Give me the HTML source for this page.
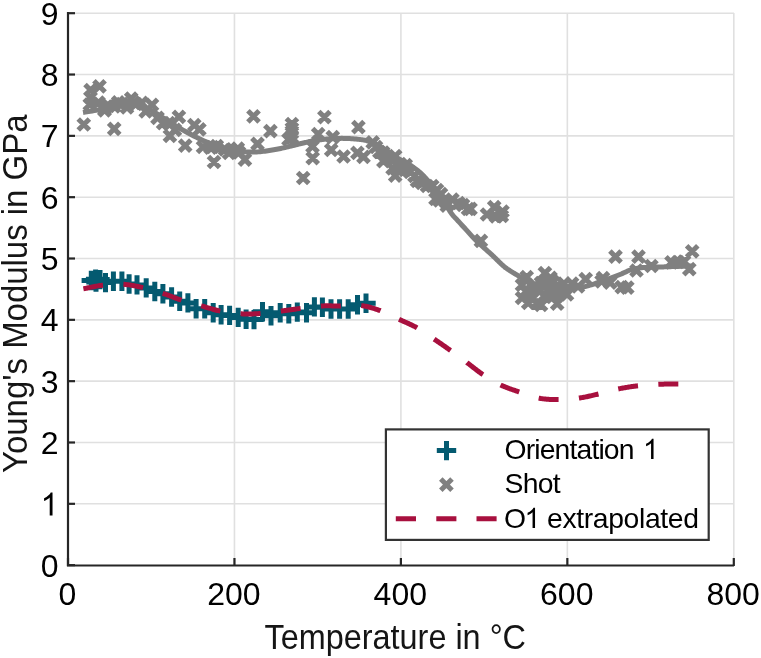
<!DOCTYPE html>
<html><head><meta charset="utf-8"><style>html,body{margin:0;padding:0;background:#fff;}svg{display:block;will-change:transform;}text{font-family:"Liberation Sans",sans-serif;}</style></head>
<body><svg width="761" height="658" viewBox="0 0 761 658">
<rect width="761" height="658" fill="#fff"/>
<line x1="234.45" y1="13" x2="234.45" y2="565" stroke="#e0e0e0" stroke-width="1.6"/>
<line x1="400.90" y1="13" x2="400.90" y2="565" stroke="#e0e0e0" stroke-width="1.6"/>
<line x1="567.35" y1="13" x2="567.35" y2="565" stroke="#e0e0e0" stroke-width="1.6"/>
<line x1="733.80" y1="13" x2="733.80" y2="565" stroke="#e0e0e0" stroke-width="1.6"/>
<line x1="68" y1="503.82" x2="734" y2="503.82" stroke="#e0e0e0" stroke-width="1.6"/>
<line x1="68" y1="442.49" x2="734" y2="442.49" stroke="#e0e0e0" stroke-width="1.6"/>
<line x1="68" y1="381.17" x2="734" y2="381.17" stroke="#e0e0e0" stroke-width="1.6"/>
<line x1="68" y1="319.84" x2="734" y2="319.84" stroke="#e0e0e0" stroke-width="1.6"/>
<line x1="68" y1="258.51" x2="734" y2="258.51" stroke="#e0e0e0" stroke-width="1.6"/>
<line x1="68" y1="197.18" x2="734" y2="197.18" stroke="#e0e0e0" stroke-width="1.6"/>
<line x1="68" y1="135.85" x2="734" y2="135.85" stroke="#e0e0e0" stroke-width="1.6"/>
<line x1="68" y1="74.53" x2="734" y2="74.53" stroke="#e0e0e0" stroke-width="1.6"/>
<line x1="68" y1="13.20" x2="734" y2="13.20" stroke="#e0e0e0" stroke-width="1.6"/>
<path d="M68,12 V565.5 H734" fill="none" stroke="#262626" stroke-width="2.2"/>
<line x1="67" y1="565.15" x2="75" y2="565.15" stroke="#262626" stroke-width="2.2"/>
<line x1="67" y1="503.82" x2="75" y2="503.82" stroke="#262626" stroke-width="2.2"/>
<line x1="67" y1="442.49" x2="75" y2="442.49" stroke="#262626" stroke-width="2.2"/>
<line x1="67" y1="381.17" x2="75" y2="381.17" stroke="#262626" stroke-width="2.2"/>
<line x1="67" y1="319.84" x2="75" y2="319.84" stroke="#262626" stroke-width="2.2"/>
<line x1="67" y1="258.51" x2="75" y2="258.51" stroke="#262626" stroke-width="2.2"/>
<line x1="67" y1="197.18" x2="75" y2="197.18" stroke="#262626" stroke-width="2.2"/>
<line x1="67" y1="135.85" x2="75" y2="135.85" stroke="#262626" stroke-width="2.2"/>
<line x1="67" y1="74.53" x2="75" y2="74.53" stroke="#262626" stroke-width="2.2"/>
<line x1="67" y1="13.20" x2="75" y2="13.20" stroke="#262626" stroke-width="2.2"/>
<line x1="68.00" y1="566" x2="68.00" y2="558" stroke="#262626" stroke-width="2.2"/>
<line x1="234.45" y1="566" x2="234.45" y2="558" stroke="#262626" stroke-width="2.2"/>
<line x1="400.90" y1="566" x2="400.90" y2="558" stroke="#262626" stroke-width="2.2"/>
<line x1="567.35" y1="566" x2="567.35" y2="558" stroke="#262626" stroke-width="2.2"/>
<line x1="733.80" y1="566" x2="733.80" y2="558" stroke="#262626" stroke-width="2.2"/>
<path d="M78.20,118.90L89.40,130.10M78.20,130.10L89.40,118.90M108.60,123.20L119.80,134.40M108.60,134.40L119.80,123.20M93.90,80.70L105.10,91.90M93.90,91.90L105.10,80.70M85.00,84.60L96.20,95.80M85.00,95.80L96.20,84.60M84.80,92.00L96.00,103.20M84.80,103.20L96.00,92.00M84.20,98.90L95.40,110.10M84.20,110.10L95.40,98.90M98.80,103.70L110.00,114.90M98.80,114.90L110.00,103.70M99.00,104.80L110.20,116.00M99.00,116.00L110.20,104.80M102.90,100.20L114.10,111.40M102.90,111.40L114.10,100.20M92.90,96.90L104.10,108.10M92.90,108.10L104.10,96.90M112.60,96.80L123.80,108.00M112.60,108.00L123.80,96.80M125.60,92.90L136.80,104.10M125.60,104.10L136.80,92.90M136.10,97.20L147.30,108.40M136.10,108.40L147.30,97.20M146.40,99.20L157.60,110.40M146.40,110.40L157.60,99.20M121.40,101.90L132.60,113.10M121.40,113.10L132.60,101.90M140.10,105.70L151.30,116.90M140.10,116.90L151.30,105.70M151.90,112.20L163.10,123.40M151.90,123.40L163.10,112.20M157.50,117.50L168.70,128.70M157.50,128.70L168.70,117.50M116.40,98.40L127.60,109.60M116.40,109.60L127.60,98.40M130.40,98.40L141.60,109.60M130.40,109.60L141.60,98.40M108.40,100.90L119.60,112.10M108.40,112.10L119.60,100.90M163.10,117.50L174.30,128.70M163.10,128.70L174.30,117.50M164.30,130.20L175.50,141.40M164.30,141.40L175.50,130.20M173.30,111.20L184.50,122.40M173.30,122.40L184.50,111.20M179.60,140.00L190.80,151.20M179.60,151.20L190.80,140.00M188.70,119.50L199.90,130.70M188.70,130.70L199.90,119.50M193.80,123.80L205.00,135.00M193.80,135.00L205.00,123.80M169.30,124.20L180.50,135.40M169.30,135.40L180.50,124.20M197.40,141.40L208.60,152.60M197.40,152.60L208.60,141.40M204.90,142.00L216.10,153.20M204.90,153.20L216.10,142.00M206.90,141.40L218.10,152.60M206.90,152.60L218.10,141.40M208.40,156.40L219.60,167.60M208.40,167.60L219.60,156.40M211.20,140.40L222.40,151.60M211.20,151.60L222.40,140.40M219.40,143.80L230.60,155.00M219.40,155.00L230.60,143.80M225.40,144.40L236.60,155.60M225.40,155.60L236.60,144.40M232.20,143.00L243.40,154.20M232.20,154.20L243.40,143.00M223.40,147.40L234.60,158.60M223.40,158.60L234.60,147.40M233.40,146.90L244.60,158.10M233.40,158.10L244.60,146.90M239.30,154.00L250.50,165.20M239.30,165.20L250.50,154.00M247.90,110.70L259.10,121.90M247.90,121.90L259.10,110.70M251.90,138.30L263.10,149.50M251.90,149.50L263.10,138.30M264.80,125.50L276.00,136.70M264.80,136.70L276.00,125.50M282.90,133.90L294.10,145.10M282.90,145.10L294.10,133.90M286.30,118.40L297.50,129.60M286.30,129.60L297.50,118.40M286.30,122.90L297.50,134.10M286.30,134.10L297.50,122.90M286.30,127.40L297.50,138.60M286.30,138.60L297.50,127.40M286.30,131.90L297.50,143.10M286.30,143.10L297.50,131.90M297.60,172.40L308.80,183.60M297.60,183.60L308.80,172.40M306.90,140.90L318.10,152.10M306.90,152.10L318.10,140.90M307.10,152.50L318.30,163.70M307.10,163.70L318.30,152.50M312.60,128.60L323.80,139.80M312.60,139.80L323.80,128.60M318.80,111.50L330.00,122.70M318.80,122.70L330.00,111.50M327.20,131.60L338.40,142.80M327.20,142.80L338.40,131.60M325.60,144.40L336.80,155.60M325.60,155.60L336.80,144.40M338.00,150.90L349.20,162.10M338.00,162.10L349.20,150.90M352.80,121.50L364.00,132.70M352.80,132.70L364.00,121.50M351.80,147.30L363.00,158.50M351.80,158.50L363.00,147.30M357.90,151.30L369.10,162.50M357.90,162.50L369.10,151.30M367.10,136.70L378.30,147.90M367.10,147.90L378.30,136.70M373.80,146.40L385.00,157.60M373.80,157.60L385.00,146.40M377.80,155.60L389.00,166.80M377.80,166.80L389.00,155.60M377.60,147.00L388.80,158.20M377.60,158.20L388.80,147.00M389.60,150.40L400.80,161.60M389.60,161.60L400.80,150.40M387.00,162.80L398.20,174.00M387.00,174.00L398.20,162.80M390.90,159.60L402.10,170.80M390.90,170.80L402.10,159.60M400.10,159.60L411.30,170.80M400.10,170.80L411.30,159.60M389.60,170.10L400.80,181.30M389.60,181.30L400.80,170.10M394.40,158.40L405.60,169.60M394.40,169.60L405.60,158.40M399.40,164.40L410.60,175.60M399.40,175.60L410.60,164.40M404.40,166.40L415.60,177.60M404.40,177.60L415.60,166.40M408.80,170.40L420.00,181.60M408.80,181.60L420.00,170.40M411.40,175.40L422.60,186.60M411.40,186.60L422.60,175.40M416.40,177.40L427.60,188.60M416.40,188.60L427.60,177.40M421.40,180.40L432.60,191.60M421.40,191.60L432.60,180.40M426.70,180.40L437.90,191.60M426.70,191.60L437.90,180.40M431.40,184.40L442.60,195.60M431.40,195.60L442.60,184.40M435.40,188.40L446.60,199.60M435.40,199.60L446.60,188.40M429.90,193.40L441.10,204.60M429.90,204.60L441.10,193.40M433.90,194.90L445.10,206.10M433.90,206.10L445.10,194.90M440.40,196.40L451.60,207.60M440.40,207.60L451.60,196.40M446.80,193.90L458.00,205.10M446.80,205.10L458.00,193.90M452.90,197.40L464.10,208.60M452.90,208.60L464.10,197.40M457.40,199.40L468.60,210.60M457.40,210.60L468.60,199.40M462.40,203.40L473.60,214.60M462.40,214.60L473.60,203.40M441.20,200.10L452.40,211.30M441.20,211.30L452.40,200.10M464.90,203.30L476.10,214.50M464.90,214.50L476.10,203.30M488.60,201.50L499.80,212.70M488.60,212.70L499.80,201.50M481.40,208.90L492.60,220.10M481.40,220.10L492.60,208.90M496.90,205.90L508.10,217.10M496.90,217.10L508.10,205.90M496.20,210.40L507.40,221.60M496.20,221.60L507.40,210.40M490.40,210.90L501.60,222.10M490.40,222.10L501.60,210.90M475.30,235.30L486.50,246.50M475.30,246.50L486.50,235.30M521.10,271.40L532.30,282.60M521.10,282.60L532.30,271.40M539.30,267.60L550.50,278.80M539.30,278.80L550.50,267.60M544.90,272.20L556.10,283.40M544.90,283.40L556.10,272.20M558.30,278.10L569.50,289.30M558.30,289.30L569.50,278.10M551.60,298.00L562.80,309.20M551.60,309.20L562.80,298.00M561.40,288.80L572.60,300.00M561.40,300.00L572.60,288.80M522.60,297.40L533.80,308.60M522.60,308.60L533.80,297.40M531.40,297.40L542.60,308.60M531.40,308.60L542.60,297.40M520.40,285.90L531.60,297.10M520.40,297.10L531.60,285.90M524.40,290.40L535.60,301.60M524.40,301.60L535.60,290.40M534.40,284.40L545.60,295.60M534.40,295.60L545.60,284.40M542.40,284.40L553.60,295.60M542.40,295.60L553.60,284.40M539.40,291.40L550.60,302.60M539.40,302.60L550.60,291.40M529.40,279.40L540.60,290.60M529.40,290.60L540.60,279.40M549.40,282.40L560.60,293.60M549.40,293.60L560.60,282.40M566.50,278.10L577.70,289.30M566.50,289.30L577.70,278.10M572.40,280.90L583.60,292.10M572.40,292.10L583.60,280.90M580.10,273.50L591.30,284.70M580.10,284.70L591.30,273.50M596.00,275.80L607.20,287.00M596.00,287.00L607.20,275.80M597.40,272.40L608.60,283.60M597.40,283.60L608.60,272.40M604.50,277.00L615.70,288.20M604.50,288.20L615.70,277.00M616.10,281.50L627.30,292.70M616.10,292.70L627.30,281.50M516.40,279.40L527.60,290.60M516.40,290.60L527.60,279.40M526.40,285.40L537.60,296.60M526.40,296.60L537.60,285.40M516.40,292.40L527.60,303.60M516.40,303.60L527.60,292.40M527.40,292.40L538.60,303.60M527.40,303.60L538.60,292.40M535.40,277.40L546.60,288.60M535.40,288.60L546.60,277.40M545.40,290.40L556.60,301.60M545.40,301.60L556.60,290.40M535.40,299.40L546.60,310.60M535.40,310.60L546.60,299.40M554.40,288.40L565.60,299.60M554.40,299.60L565.60,288.40M547.40,276.40L558.60,287.60M547.40,287.60L558.60,276.40M609.90,251.10L621.10,262.30M609.90,262.30L621.10,251.10M621.70,282.00L632.90,293.20M621.70,293.20L632.90,282.00M632.90,251.10L644.10,262.30M632.90,262.30L644.10,251.10M630.90,264.90L642.10,276.10M630.90,276.10L642.10,264.90M645.80,260.40L657.00,271.60M645.80,271.60L657.00,260.40M665.90,256.80L677.10,268.00M665.90,268.00L677.10,256.80M672.40,256.40L683.60,267.60M672.40,267.60L683.60,256.40M678.40,255.90L689.60,267.10M678.40,267.10L689.60,255.90M683.70,263.50L694.90,274.70M683.70,274.70L694.90,263.50M686.60,245.70L697.80,256.90M686.60,256.90L697.80,245.70M370.40,141.40L381.60,152.60M370.40,152.60L381.60,141.40M381.40,152.40L392.60,163.60M381.40,163.60L392.60,152.40" stroke="#808080" stroke-width="5.0" fill="none"/>
<path d="M83.00,112.50 L84.00,112.33 L85.26,112.11 L86.76,111.85 L88.43,111.56 L90.25,111.25 L92.17,110.92 L94.14,110.57 L96.14,110.21 L98.10,109.85 L100.00,109.50 L101.90,109.12 L103.89,108.71 L105.94,108.26 L108.02,107.80 L110.12,107.34 L112.22,106.90 L114.27,106.47 L116.27,106.09 L118.19,105.76 L120.00,105.50 L121.70,105.28 L123.32,105.09 L124.87,104.92 L126.36,104.78 L127.81,104.69 L129.24,104.64 L130.66,104.64 L132.08,104.69 L133.52,104.81 L135.00,105.00 L136.50,105.26 L138.00,105.58 L139.50,105.97 L141.00,106.41 L142.50,106.91 L144.00,107.45 L145.50,108.03 L147.00,108.66 L148.50,109.31 L150.00,110.00 L151.50,110.73 L152.98,111.53 L154.47,112.37 L155.95,113.26 L157.44,114.19 L158.93,115.14 L160.43,116.10 L161.94,117.07 L163.46,118.04 L165.00,119.00 L166.53,119.95 L168.04,120.91 L169.54,121.88 L171.04,122.86 L172.56,123.84 L174.12,124.84 L175.73,125.86 L177.40,126.89 L179.15,127.93 L181.00,129.00 L182.98,130.11 L185.10,131.28 L187.32,132.50 L189.61,133.73 L191.94,134.97 L194.27,136.19 L196.58,137.37 L198.82,138.50 L200.98,139.55 L203.00,140.50 L204.91,141.36 L206.76,142.16 L208.54,142.90 L210.28,143.58 L211.96,144.22 L213.61,144.82 L215.23,145.39 L216.83,145.94 L218.42,146.47 L220.00,147.00 L221.53,147.51 L222.98,148.01 L224.37,148.48 L225.73,148.92 L227.09,149.34 L228.46,149.74 L229.87,150.10 L231.35,150.43 L232.92,150.73 L234.60,151.00 L236.43,151.23 L238.38,151.44 L240.44,151.61 L242.56,151.75 L244.72,151.86 L246.89,151.94 L249.04,151.99 L251.12,152.02 L253.12,152.02 L255.00,152.00 L256.77,151.94 L258.48,151.85 L260.13,151.72 L261.73,151.57 L263.29,151.39 L264.82,151.19 L266.32,150.98 L267.82,150.75 L269.31,150.53 L270.80,150.30 L272.28,150.07 L273.73,149.82 L275.15,149.57 L276.56,149.30 L277.95,149.03 L279.34,148.74 L280.73,148.44 L282.13,148.14 L283.55,147.82 L285.00,147.50 L286.49,147.16 L288.03,146.80 L289.60,146.41 L291.18,146.02 L292.76,145.62 L294.32,145.22 L295.84,144.84 L297.31,144.46 L298.70,144.12 L300.00,143.80 L301.20,143.51 L302.32,143.24 L303.37,142.99 L304.36,142.75 L305.31,142.53 L306.24,142.31 L307.16,142.10 L308.08,141.90 L309.02,141.70 L310.00,141.50 L311.00,141.30 L312.00,141.11 L313.00,140.92 L314.00,140.74 L315.00,140.57 L316.00,140.40 L317.00,140.24 L318.00,140.09 L319.00,139.94 L320.00,139.80 L320.98,139.67 L321.92,139.55 L322.84,139.43 L323.76,139.32 L324.69,139.22 L325.64,139.12 L326.63,139.03 L327.68,138.95 L328.80,138.87 L330.00,138.80 L331.30,138.73 L332.68,138.66 L334.13,138.59 L335.64,138.52 L337.19,138.47 L338.76,138.42 L340.34,138.39 L341.92,138.37 L343.48,138.38 L345.00,138.40 L346.53,138.45 L348.11,138.52 L349.72,138.61 L351.34,138.71 L352.94,138.83 L354.50,138.96 L356.01,139.09 L357.45,139.23 L358.78,139.37 L360.00,139.50 L361.08,139.63 L362.04,139.75 L362.90,139.87 L363.68,139.99 L364.41,140.12 L365.11,140.26 L365.79,140.41 L366.49,140.58 L367.22,140.78 L368.00,141.00 L368.83,141.24 L369.67,141.51 L370.53,141.79 L371.38,142.09 L372.24,142.41 L373.10,142.74 L373.95,143.08 L374.78,143.44 L375.60,143.82 L376.40,144.20 L377.17,144.60 L377.92,145.02 L378.66,145.46 L379.38,145.91 L380.09,146.37 L380.80,146.84 L381.51,147.32 L382.23,147.81 L382.95,148.31 L383.70,148.80 L384.45,149.30 L385.21,149.81 L385.96,150.32 L386.72,150.84 L387.48,151.37 L388.26,151.90 L389.04,152.44 L389.84,152.99 L390.66,153.54 L391.50,154.10 L392.36,154.67 L393.25,155.26 L394.15,155.85 L395.07,156.46 L396.01,157.07 L396.95,157.68 L397.89,158.28 L398.83,158.87 L399.77,159.44 L400.70,160.00 L401.62,160.53 L402.54,161.02 L403.46,161.49 L404.38,161.94 L405.30,162.40 L406.22,162.86 L407.16,163.34 L408.09,163.85 L409.04,164.40 L410.00,165.00 L410.97,165.64 L411.96,166.29 L412.95,166.97 L413.95,167.68 L414.96,168.41 L415.97,169.16 L416.98,169.95 L417.99,170.77 L419.00,171.62 L420.00,172.50 L421.00,173.42 L422.00,174.37 L423.00,175.35 L424.00,176.36 L425.00,177.41 L426.00,178.48 L427.00,179.57 L428.00,180.69 L429.00,181.84 L430.00,183.00 L431.00,184.18 L431.98,185.38 L432.97,186.60 L433.95,187.84 L434.94,189.11 L435.93,190.41 L436.93,191.74 L437.94,193.12 L438.96,194.53 L440.00,196.00 L441.08,197.57 L442.21,199.27 L443.37,201.06 L444.55,202.90 L445.73,204.76 L446.89,206.58 L448.01,208.34 L449.08,209.99 L450.09,211.49 L451.00,212.80 L451.81,213.90 L452.51,214.82 L453.14,215.60 L453.72,216.27 L454.26,216.88 L454.80,217.44 L455.34,218.01 L455.93,218.62 L456.57,219.30 L457.30,220.10 L458.10,220.99 L458.96,221.93 L459.85,222.90 L460.78,223.91 L461.73,224.94 L462.69,225.98 L463.66,227.02 L464.62,228.06 L465.57,229.09 L466.50,230.10 L467.41,231.09 L468.30,232.09 L469.19,233.08 L470.08,234.08 L470.97,235.07 L471.86,236.06 L472.77,237.05 L473.69,238.03 L474.63,239.02 L475.60,240.00 L476.61,241.00 L477.68,242.02 L478.79,243.06 L479.91,244.10 L481.04,245.12 L482.15,246.13 L483.23,247.11 L484.26,248.03 L485.22,248.90 L486.10,249.70 L486.89,250.42 L487.60,251.06 L488.26,251.65 L488.86,252.19 L489.43,252.69 L489.98,253.18 L490.52,253.66 L491.06,254.15 L491.61,254.66 L492.20,255.20 L492.80,255.77 L493.40,256.34 L494.00,256.92 L494.60,257.50 L495.20,258.09 L495.80,258.67 L496.40,259.26 L497.00,259.84 L497.60,260.42 L498.20,261.00 L498.81,261.58 L499.41,262.17 L500.02,262.76 L500.63,263.35 L501.24,263.94 L501.86,264.53 L502.47,265.10 L503.08,265.65 L503.69,266.19 L504.30,266.70 L504.91,267.19 L505.52,267.66 L506.13,268.11 L506.74,268.55 L507.35,268.98 L507.96,269.39 L508.57,269.80 L509.18,270.20 L509.79,270.60 L510.40,271.00 L511.00,271.39 L511.58,271.75 L512.15,272.10 L512.72,272.45 L513.30,272.79 L513.89,273.13 L514.49,273.49 L515.13,273.87 L515.79,274.27 L516.50,274.70 L517.26,275.16 L518.05,275.65 L518.89,276.17 L519.75,276.70 L520.63,277.24 L521.52,277.79 L522.41,278.34 L523.29,278.90 L524.16,279.45 L525.00,280.00 L525.79,280.55 L526.51,281.12 L527.19,281.70 L527.86,282.28 L528.54,282.86 L529.26,283.43 L530.04,283.99 L530.91,284.52 L531.89,285.03 L533.00,285.50 L534.26,285.95 L535.66,286.38 L537.17,286.81 L538.76,287.21 L540.41,287.59 L542.11,287.95 L543.81,288.27 L545.52,288.56 L547.18,288.80 L548.80,289.00 L550.38,289.15 L551.96,289.25 L553.54,289.31 L555.12,289.33 L556.70,289.32 L558.28,289.29 L559.86,289.24 L561.44,289.16 L563.02,289.08 L564.60,289.00 L566.21,288.90 L567.86,288.78 L569.54,288.63 L571.22,288.46 L572.89,288.28 L574.53,288.09 L576.12,287.89 L577.64,287.69 L579.07,287.49 L580.40,287.30 L581.58,287.12 L582.61,286.96 L583.52,286.81 L584.36,286.65 L585.17,286.49 L585.98,286.30 L586.82,286.09 L587.75,285.84 L588.80,285.55 L590.00,285.20 L591.37,284.79 L592.87,284.31 L594.48,283.79 L596.16,283.23 L597.89,282.64 L599.65,282.04 L601.39,281.44 L603.10,280.84 L604.75,280.25 L606.30,279.70 L607.78,279.17 L609.22,278.64 L610.64,278.12 L612.02,277.60 L613.38,277.09 L614.72,276.57 L616.05,276.06 L617.37,275.54 L618.69,275.02 L620.00,274.50 L621.30,273.96 L622.58,273.39 L623.85,272.81 L625.10,272.22 L626.34,271.64 L627.58,271.07 L628.82,270.54 L630.07,270.04 L631.32,269.59 L632.60,269.20 L633.88,268.87 L635.17,268.59 L636.46,268.36 L637.75,268.16 L639.04,267.99 L640.35,267.85 L641.67,267.73 L643.00,267.61 L644.34,267.51 L645.70,267.40 L647.09,267.30 L648.52,267.23 L649.97,267.18 L651.44,267.14 L652.92,267.11 L654.39,267.09 L655.84,267.08 L657.27,267.06 L658.66,267.03 L660.00,267.00 L661.26,266.96 L662.42,266.92 L663.52,266.89 L664.58,266.85 L665.64,266.81 L666.73,266.77 L667.88,266.73 L669.12,266.69 L670.49,266.65 L672.00,266.60 L673.77,266.55 L675.81,266.48 L678.04,266.42 L680.38,266.35 L682.75,266.28 L685.06,266.21 L687.22,266.14 L689.15,266.08 L690.77,266.04 L692.00,266.00" stroke="#808080" stroke-width="5" fill="none" stroke-linejoin="round"/>
<path d="M81.60,280.50H101.00M91.30,270.80V290.20M85.90,279.20H105.30M95.60,269.50V288.90M86.30,282.00H105.70M96.00,272.30V291.70M90.30,279.60H109.70M100.00,269.90V289.30M95.80,282.60H115.20M105.50,272.90V292.30M103.70,281.30H123.10M113.40,271.60V291.00M112.20,281.30H131.60M121.90,271.60V291.00M119.40,284.00H138.80M129.10,274.30V293.70M127.30,284.90H146.70M137.00,275.20V294.60M136.50,287.90H155.90M146.20,278.20V297.60M145.10,291.50H164.50M154.80,281.80V301.20M153.20,293.70H172.60M162.90,284.00V303.40M161.90,297.00H181.30M171.60,287.30V306.70M170.00,301.30H189.40M179.70,291.60V311.00M178.20,302.90H197.60M187.90,293.20V312.60M186.40,308.80H205.80M196.10,299.10V318.50M195.00,308.80H214.40M204.70,299.10V318.50M203.50,312.80H222.90M213.20,303.10V322.50M211.40,314.70H230.80M221.10,305.00V324.40M219.90,315.40H239.30M229.60,305.70V325.10M228.50,317.40H247.90M238.20,307.70V327.10M236.40,319.30H255.80M246.10,309.60V329.00M244.30,319.60H263.70M254.00,309.90V329.30M252.80,311.80H272.20M262.50,302.10V321.50M261.30,315.70H280.70M271.00,306.00V325.40M270.50,312.80H289.90M280.20,303.10V322.50M279.10,313.80H298.50M288.80,304.10V323.50M287.60,312.10H307.00M297.30,302.40V321.80M296.80,312.80H316.20M306.50,303.10V322.50M304.70,306.90H324.10M314.40,297.20V316.60M312.70,307.30H332.10M322.40,297.60V317.00M321.30,309.00H340.70M331.00,299.30V318.70M329.90,309.00H349.30M339.60,299.30V318.70M338.50,309.00H357.90M348.20,299.30V318.70M347.80,304.80H367.20M357.50,295.10V314.50M356.30,303.20H375.70M366.00,293.50V312.90" stroke="#045a70" stroke-width="5" fill="none"/>
<path d="M83.39,288.84 L83.62,288.80 L84.23,288.67 L84.91,288.53 L85.67,288.37 L86.49,288.19 L87.37,288.00 L88.30,287.80 L89.27,287.59 L90.29,287.38 L91.34,287.16 L92.41,286.94 L93.51,286.73 L94.61,286.51 L95.73,286.30 L96.84,286.10 L97.95,285.91 L99.05,285.73 L100.13,285.57 L101.18,285.43 L102.20,285.30 L103.05,285.20M123.41,284.31 L124.21,284.36 L125.22,284.44 L126.22,284.54 L127.21,284.64 L128.20,284.76 L129.18,284.89 L130.16,285.03 L131.14,285.19 L132.11,285.35 L133.09,285.52 L134.06,285.70 L135.03,285.89 L136.00,286.08 L136.98,286.28 L137.96,286.49 L138.94,286.70 L139.92,286.92 L140.91,287.15 L141.90,287.37 L142.90,287.60 L143.10,287.65M162.70,293.30 L163.30,293.50 L164.24,293.81 L165.17,294.13 L166.08,294.45 L166.97,294.77 L167.85,295.10 L168.72,295.42 L169.59,295.75 L170.44,296.09 L171.30,296.42 L172.15,296.75 L173.00,297.08 L173.86,297.41 L174.71,297.75 L175.58,298.08 L176.45,298.40 L177.33,298.73 L178.22,299.05 L179.13,299.37 L180.06,299.69 L181.00,300.00 L181.48,300.16M201.08,305.81 L201.40,305.90 L202.38,306.18 L203.35,306.46 L204.31,306.74 L205.27,307.02 L206.22,307.31 L207.16,307.59 L208.10,307.87 L209.03,308.15 L209.97,308.43 L210.90,308.70 L211.83,308.97 L212.77,309.23 L213.70,309.49 L214.64,309.75 L215.58,309.99 L216.53,310.23 L217.49,310.46 L218.45,310.68 L219.42,310.90 L220.36,311.09M240.57,313.79 L240.80,313.80 L241.79,313.86 L242.76,313.90 L243.73,313.94 L244.69,313.97 L245.64,313.99 L246.59,314.00 L247.54,314.00 L248.48,314.00 L249.43,313.99 L250.37,313.97 L251.31,313.94 L252.26,313.92 L253.20,313.88 L254.15,313.84 L255.11,313.79 L256.07,313.74 L257.04,313.69 L258.02,313.63 L259.00,313.57 L260.00,313.50 L260.55,313.46M280.81,311.11 L280.90,311.10 L281.89,310.97 L282.87,310.85 L283.83,310.72 L284.78,310.59 L285.72,310.46 L286.66,310.33 L287.59,310.20 L288.51,310.07 L289.43,309.94 L290.36,309.81 L291.28,309.67 L292.20,309.54 L293.13,309.41 L294.07,309.28 L295.01,309.15 L295.96,309.02 L296.93,308.89 L297.90,308.76 L298.89,308.63 L299.90,308.50 L300.63,308.41M320.89,306.04 L321.50,306.00 L322.51,305.94 L323.50,305.90 L324.48,305.87 L325.45,305.85 L326.40,305.84 L327.35,305.83 L328.29,305.84 L329.23,305.84 L330.16,305.86 L331.09,305.87 L332.01,305.89 L332.94,305.92 L333.86,305.94 L334.79,305.96 L335.73,305.98 L336.66,305.99 L337.61,306.00 L338.56,306.01 L339.53,306.01 L340.50,306.00 L340.88,305.99M361.25,305.57 L361.70,305.63 L362.70,305.77 L363.69,305.94 L364.69,306.12 L365.69,306.32 L366.68,306.53 L367.68,306.76 L368.67,307.01 L369.66,307.26 L370.65,307.53 L371.64,307.81 L372.62,308.10 L373.61,308.40 L374.59,308.71 L375.56,309.03 L376.54,309.35 L377.51,309.68 L378.48,310.02 L379.44,310.36 L380.40,310.70 L380.52,310.75M399.03,319.31 L399.91,319.72 L400.83,320.14 L401.74,320.55 L402.65,320.96 L403.57,321.37 L404.48,321.77 L405.38,322.17 L406.29,322.58 L407.20,322.98 L408.10,323.39 L409.00,323.80 L409.90,324.21 L410.80,324.63 L411.69,325.05 L412.58,325.49 L413.47,325.93 L414.36,326.38 L415.24,326.84 L416.12,327.31 L417.00,327.80 L417.10,327.86M434.12,339.08 L434.85,339.58 L435.70,340.16 L436.56,340.74 L437.42,341.32 L438.27,341.91 L439.13,342.50 L439.99,343.09 L440.85,343.68 L441.71,344.27 L442.56,344.86 L443.42,345.46 L444.27,346.05 L445.12,346.65 L445.97,347.24 L446.82,347.84 L447.66,348.43 L448.50,349.02 L449.34,349.62 L450.17,350.21 L450.56,350.48M466.98,362.58 L467.00,362.60 L467.79,363.19 L468.58,363.79 L469.36,364.39 L470.14,365.00 L470.91,365.60 L471.69,366.21 L472.46,366.81 L473.23,367.42 L474.01,368.03 L474.78,368.63 L475.56,369.23 L476.34,369.84 L477.12,370.43 L477.91,371.03 L478.71,371.62 L479.51,372.21 L480.32,372.79 L481.14,373.37 L481.96,373.94 L482.80,374.50 L482.96,374.60M500.54,384.92 L500.70,385.00 L501.62,385.43 L502.55,385.85 L503.48,386.26 L504.41,386.66 L505.35,387.04 L506.29,387.41 L507.24,387.78 L508.18,388.14 L509.13,388.49 L510.08,388.83 L511.03,389.17 L511.98,389.50 L512.94,389.83 L513.89,390.16 L514.84,390.48 L515.80,390.80 L516.75,391.13 L517.70,391.45 L518.65,391.77 L519.24,391.98M538.67,398.11 L539.58,398.28 L540.56,398.45 L541.54,398.60 L542.53,398.74 L543.52,398.86 L544.52,398.98 L545.52,399.08 L546.52,399.17 L547.52,399.25 L548.52,399.32 L549.53,399.38 L550.54,399.43 L551.55,399.48 L552.55,399.51 L553.56,399.54 L554.57,399.56 L555.58,399.58 L556.59,399.59 L557.59,399.60 L558.59,399.60M578.91,398.08 L579.80,397.95 L580.79,397.80 L581.78,397.63 L582.78,397.46 L583.76,397.28 L584.75,397.09 L585.74,396.89 L586.73,396.69 L587.71,396.48 L588.69,396.27 L589.68,396.05 L590.66,395.83 L591.64,395.61 L592.62,395.38 L593.60,395.15 L594.58,394.92 L595.56,394.69 L596.54,394.46 L597.52,394.23 L598.49,394.00M618.25,388.95 L618.98,388.80 L619.96,388.60 L620.95,388.41 L621.93,388.22 L622.91,388.03 L623.90,387.85 L624.88,387.68 L625.86,387.51 L626.85,387.34 L627.84,387.18 L628.83,387.02 L629.82,386.87 L630.81,386.72 L631.80,386.58 L632.79,386.44 L633.79,386.30 L634.79,386.17 L635.79,386.04 L636.79,385.92 L637.80,385.80 L637.99,385.78M658.33,384.30 L659.31,384.26 L660.33,384.22 L661.35,384.19 L662.38,384.16 L663.41,384.13 L664.45,384.11 L665.48,384.09 L666.51,384.08 L667.54,384.07 L668.56,384.06 L669.57,384.05 L670.57,384.04 L671.56,384.04 L672.53,384.03 L673.49,384.03 L674.44,384.02 L675.36,384.02 L676.26,384.01 L677.14,384.01 L678.00,384.00 L678.32,384.00" stroke="#a8103e" stroke-width="5" fill="none"/>
<text x="58.6" y="576.75" text-anchor="end" font-size="32" fill="#000" font-family="Liberation Sans, sans-serif">0</text>
<path d="M52.52,515.42 L49.71,515.42 L49.71,497.50 L48.69,498.47 L47.05,499.44 L45.40,500.41 L44.08,500.89 L44.08,498.17 L46.44,497.06 L48.21,495.48 L49.98,493.91 L50.71,492.52 L52.52,492.52Z" fill="#000"/>
<text x="58.6" y="454.09" text-anchor="end" font-size="32" fill="#000" font-family="Liberation Sans, sans-serif">2</text>
<text x="58.6" y="392.77" text-anchor="end" font-size="32" fill="#000" font-family="Liberation Sans, sans-serif">3</text>
<text x="58.6" y="331.44" text-anchor="end" font-size="32" fill="#000" font-family="Liberation Sans, sans-serif">4</text>
<text x="58.6" y="270.11" text-anchor="end" font-size="32" fill="#000" font-family="Liberation Sans, sans-serif">5</text>
<text x="58.6" y="208.78" text-anchor="end" font-size="32" fill="#000" font-family="Liberation Sans, sans-serif">6</text>
<text x="58.6" y="147.45" text-anchor="end" font-size="32" fill="#000" font-family="Liberation Sans, sans-serif">7</text>
<text x="58.6" y="86.13" text-anchor="end" font-size="32" fill="#000" font-family="Liberation Sans, sans-serif">8</text>
<text x="58.6" y="24.80" text-anchor="end" font-size="32" fill="#000" font-family="Liberation Sans, sans-serif">9</text>
<text x="67.40" y="604.8" text-anchor="middle" font-size="32" fill="#000" font-family="Liberation Sans, sans-serif">0</text>
<text x="233.85" y="604.8" text-anchor="middle" font-size="32" fill="#000" font-family="Liberation Sans, sans-serif">200</text>
<text x="400.30" y="604.8" text-anchor="middle" font-size="32" fill="#000" font-family="Liberation Sans, sans-serif">400</text>
<text x="566.75" y="604.8" text-anchor="middle" font-size="32" fill="#000" font-family="Liberation Sans, sans-serif">600</text>
<text x="733.20" y="604.8" text-anchor="middle" font-size="32" fill="#000" font-family="Liberation Sans, sans-serif">800</text>
<text x="264.5" y="648.7" font-size="35" textLength="261.5" lengthAdjust="spacingAndGlyphs" fill="#151515" font-family="Liberation Sans, sans-serif">Temperature in °C</text>
<text transform="translate(26.8,473) rotate(-90)" x="0" y="0" font-size="34.2" textLength="358.5" lengthAdjust="spacingAndGlyphs" fill="#151515" font-family="Liberation Sans, sans-serif">Young's Modulus in GPa</text>
<rect x="385.9" y="429.4" width="322.8" height="110.5" fill="#fff" stroke="#333" stroke-width="2.2"/>
<path d="M436.8,450.6H456.2M446.5,440.9V460.3" stroke="#045a70" stroke-width="5" fill="none"/>
<path d="M440.79999999999995,479.0L452.0,490.20000000000005M440.79999999999995,490.20000000000005L452.0,479.0" stroke="#808080" stroke-width="5.0" fill="none"/>
<path d="M395.8,518.8H416M436.3,518.8H456.4M476.5,518.8H496.6" stroke="#a8103e" stroke-width="5" fill="none"/>
<text x="504.5" y="459.1" font-size="28.3" textLength="130" lengthAdjust="spacing" fill="#000" font-family="Liberation Sans, sans-serif">Orientation</text>
<path d="M653.54,459.10 L651.06,459.10 L651.06,443.25 L650.16,444.11 L648.71,444.96 L647.24,445.82 L646.08,446.25 L646.08,443.84 L648.17,442.86 L649.73,441.47 L651.29,440.07 L651.94,438.84 L653.54,438.84Z" fill="#000"/>
<text x="504.5" y="493.1" font-size="28.3" textLength="56" lengthAdjust="spacing" fill="#000" font-family="Liberation Sans, sans-serif">Shot</text>
<text x="504" y="528.1" font-size="28.3" fill="#000" font-family="Liberation Sans, sans-serif">O</text>
<path d="M535.04,528.10 L532.56,528.10 L532.56,512.25 L531.66,513.11 L530.21,513.96 L528.74,514.82 L527.58,515.25 L527.58,512.84 L529.67,511.86 L531.23,510.47 L532.79,509.07 L533.44,507.84 L535.04,507.84Z" fill="#000"/>
<text x="547" y="528.1" font-size="28.3" textLength="152" lengthAdjust="spacing" fill="#000" font-family="Liberation Sans, sans-serif">extrapolated</text>
</svg></body></html>
